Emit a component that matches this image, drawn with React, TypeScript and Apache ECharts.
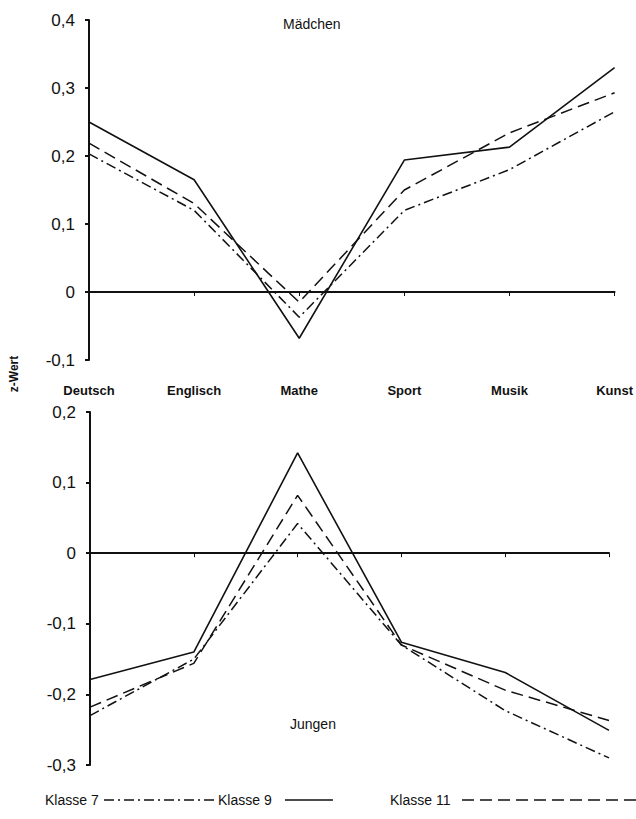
import React, { useEffect, useRef } from "react";
import * as echarts from "echarts";

const categories = ["Deutsch", "Englisch", "Mathe", "Sport", "Musik", "Kunst"];

// Mädchen (top)
const girlsK7 = [0.203, 0.12, -0.037, 0.12, 0.18, 0.265];
const girlsK9 = [0.25, 0.165, -0.068, 0.194, 0.213, 0.33];
const girlsK11 = [0.219, 0.13, -0.015, 0.15, 0.234, 0.293];

// Jungen (bottom)
const boysK7 = [-0.23, -0.15, 0.042, -0.13, -0.223, -0.29];
const boysK9 = [-0.179, -0.14, 0.142, -0.126, -0.169, -0.251];
const boysK11 = [-0.218, -0.156, 0.082, -0.13, -0.194, -0.237];

const seriesNames = ["Klasse 7", "Klasse 9", "Klasse 11"];
const dashK7 = [10, 4, 2, 4];
const dashK11 = [12, 6];

const fmt = (v: number) => {
  if (Math.abs(v) < 1e-9) return "0";
  const s = Math.abs(v).toFixed(1).replace(".", ",");
  return v < 0 ? "-" + s : s;
};

export default function App() {
  const ref = useRef<HTMLDivElement>(null);
  useEffect(() => {
    if (!ref.current) return;
    const chart = echarts.init(ref.current, undefined, { renderer: "svg" });
    const ink = "#111";
    const font = "Liberation Sans";
    const lineBase = (name: string, data: number[], xi: number, yi: number) => {
      const type =
        name === "Klasse 7" ? dashK7 : name === "Klasse 11" ? dashK11 : "solid";
      return {
        type: "line",
        name,
        data,
        xAxisIndex: xi,
        yAxisIndex: yi,
        symbol: "none",
        lineStyle: { color: ink, width: name === "Klasse 9" ? 1.6 : 1.5, type },
        z: 3,
      };
    };
    const xAxisCommon = {
      type: "category",
      data: categories,
      boundaryGap: false,
      axisLine: { onZero: true, lineStyle: { color: ink, width: 2 } },
      axisTick: { show: true, inside: false, length: 4, lineStyle: { color: ink } },
      axisLabel: { show: false },
      splitLine: { show: false },
    };
    const yAxisCommon = {
      type: "value",
      interval: 0.1,
      axisLine: { show: true, lineStyle: { color: ink, width: 2 } },
      axisTick: { show: true, length: 4, lineStyle: { color: ink, width: 2 } },
      splitLine: { show: false },
      axisLabel: {
        formatter: fmt,
        color: ink,
        fontSize: 17,
        fontFamily: font,
        margin: 14,
      },
    };
    const legendY = 800;
    const legendItems = [
      { label: "Klasse 7", tx: 45, x1: 104, x2: 215, dash: dashK7 },
      { label: "Klasse 9", tx: 218, x1: 285, x2: 333, dash: null },
      { label: "Klasse 11", tx: 390, x1: 462, x2: 636, dash: dashK11 },
    ];
    const graphics: any[] = [
      {
        type: "text",
        left: 283,
        top: 17,
        style: { text: "Mädchen", font: `14px ${font}`, fill: ink },
      },
      {
        type: "text",
        left: 290,
        top: 717,
        style: { text: "Jungen", font: `14px ${font}`, fill: ink },
      },
      {
        type: "text",
        x: 14,
        y: 374,
        rotation: Math.PI / 2,
        style: {
          text: "z-Wert",
          font: `bold 12px ${font}`,
          fill: ink,
          align: "center",
          verticalAlign: "middle",
        },
      },
    ];
    legendItems.forEach((it) => {
      graphics.push({
        type: "text",
        x: it.tx,
        y: legendY,
        style: {
          text: it.label,
          font: `14px ${font}`,
          fill: ink,
          verticalAlign: "middle",
        },
      });
      graphics.push({
        type: "line",
        shape: { x1: it.x1, y1: legendY, x2: it.x2, y2: legendY },
        style: {
          stroke: ink,
          lineWidth: 1.3,
          lineDash: it.dash || undefined,
        },
      });
    });

    chart.setOption({
      animation: false,
      backgroundColor: "#fff",
      grid: [
        { left: 89, top: 20, width: 528, height: 340 },
        { left: 90, top: 412, width: 519, height: 353 },
      ],
      xAxis: [
        { ...xAxisCommon, gridIndex: 0 },
        { ...xAxisCommon, gridIndex: 1 },
        {
          type: "category",
          data: categories,
          boundaryGap: false,
          gridIndex: 0,
          position: "bottom",
          axisLine: { show: false, onZero: false },
          axisTick: { show: false },
          axisLabel: {
            show: true,
            interval: 0,
            margin: 24,
            color: ink,
            fontSize: 13,
            fontWeight: "bold",
            fontFamily: font,
          },
        },
      ],
      yAxis: [
        { ...yAxisCommon, gridIndex: 0, min: -0.1, max: 0.4 },
        { ...yAxisCommon, gridIndex: 1, min: -0.3, max: 0.2 },
      ],
      series: [
        lineBase(seriesNames[0], girlsK7, 0, 0),
        lineBase(seriesNames[1], girlsK9, 0, 0),
        lineBase(seriesNames[2], girlsK11, 0, 0),
        lineBase(seriesNames[0], boysK7, 1, 1),
        lineBase(seriesNames[1], boysK9, 1, 1),
        lineBase(seriesNames[2], boysK11, 1, 1),
      ],
      graphic: graphics,
    });
    return () => chart.dispose();
  }, []);
  return (
    <div
      ref={ref}
      style={{ position: "fixed", left: 0, top: 0, width: 636, height: 819, background: "#fff" }}
    />
  );
}
